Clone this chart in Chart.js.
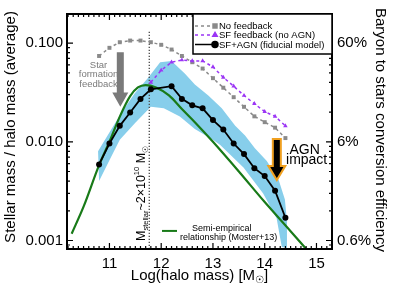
<!DOCTYPE html>
<html>
<head>
<meta charset="utf-8">
<script src="https://cdn.jsdelivr.net/npm/chart.js@4.4.0/dist/chart.umd.min.js"></script>
<style>
  html, body { margin: 0; padding: 0; background: #fff; }
  canvas { display: block; }
</style>
</head>
<body>
<canvas id="grafico" width="395" height="291"></canvas>
<script>
// valori (log massa alone, massa stellare / massa alone)
var noFeedbackX = [10.8, 11.0, 11.2, 11.4, 11.6, 11.8, 12.0, 12.2, 12.4, 12.6, 12.8, 13.0, 13.2, 13.4, 13.6, 13.8, 14.0, 14.2, 14.4];
var noFeedbackY = [0.074, 0.0895, 0.102, 0.106, 0.106, 0.102, 0.096, 0.086, 0.074, 0.064, 0.0552, 0.0441, 0.0353, 0.0283, 0.0226, 0.0181, 0.0158, 0.0139, 0.0109];

var sfFeedbackX = [11.8, 12.0, 12.2, 12.4, 12.6, 12.8, 13.0, 13.2, 13.4, 13.6, 13.8, 14.0, 14.2, 14.4];
var sfFeedbackY = [0.040, 0.053, 0.064, 0.0674, 0.066, 0.066, 0.0573, 0.0449, 0.0366, 0.0294, 0.0243, 0.0202, 0.0181, 0.0145];

var fiducialeX = [10.8, 11.0, 11.2, 11.4, 11.6, 11.8, 12.2, 12.4, 12.6, 12.8, 13.0, 13.2, 13.4, 13.6, 13.8, 14.0, 14.2, 14.4];
var fiducialeY = [0.0059, 0.0096, 0.0145, 0.0198, 0.0272, 0.034, 0.0366, 0.0272, 0.0234, 0.0218, 0.0166, 0.0133, 0.0096, 0.0075, 0.0054, 0.0045, 0.0032, 0.0017];

var mosterX = [10.27, 10.5, 10.8, 11.0, 11.2, 11.4, 11.55, 11.7, 11.9, 12.15, 12.4, 12.65, 13.0, 13.5, 14.0, 14.5, 14.82];
var mosterY = [0.00117, 0.0022, 0.0058, 0.0100, 0.018, 0.029, 0.0355, 0.0375, 0.0355, 0.0295, 0.0215, 0.0158, 0.0100, 0.0050, 0.00245, 0.00124, 0.00080];

var bandaSopraX = [10.78, 10.87, 11.24, 11.49, 11.74, 11.98, 12.2, 12.46, 12.65, 12.91, 13.17, 13.43, 13.62, 13.81, 14.04, 14.27, 14.39, 14.43, 14.43];
var bandaSopraY = [0.0080, 0.0096, 0.020, 0.031, 0.044, 0.064, 0.066, 0.049, 0.038, 0.0294, 0.0218, 0.0145, 0.0116, 0.0086, 0.0064, 0.0041, 0.0026, 0.00156, 0.00084];
var bandaSottoX = [10.8, 11.0, 11.2, 11.5, 11.8, 12.05, 12.36, 12.65, 13.0, 13.14, 13.59, 13.97, 14.23, 14.33];
var bandaSottoY = [0.0040, 0.0065, 0.0105, 0.0156, 0.0226, 0.0218, 0.018, 0.0135, 0.0105, 0.0093, 0.0055, 0.0030, 0.00168, 0.00086];

var mStellareX = 11.77;        // linea verticale M_stellar ~ 2x10^10
var mStellareCima = 0.13;

var xMin = 10.18, xMax = 15.3;
var yMin = 0.00082, yMax = 0.197;
var xTickValori = [11, 12, 13, 14, 15];
var yTickValori = [0.001, 0.01, 0.1];
var yTickEtichette = ['0.001', '0.010', '0.100'];
var destraTickEtichette = ['0.6%', '6%', '60%'];

var FONT = "'Liberation Sans', 'DejaVu Sans', sans-serif";

function punti(xs, ys) {
  var out = [];
  for (var i = 0; i < xs.length; i++) out.push({x: xs[i], y: ys[i]});
  return out;
}

// poligono della banda: bordo superiore poi inferiore al contrario
var bandaPunti = punti(bandaSopraX, bandaSopraY).concat(punti(bandaSottoX, bandaSottoY).reverse());

var GRIGIO = '#8a8a8a', VIOLA = '#9b35f5', VERDE = '#187a18', AZZURRO = '#87ceeb';

function testoRicco(ctx, pezzi, x, y, angolo, allinea, colore) {
  ctx.save();
  ctx.translate(x, y);
  ctx.rotate(angolo);
  ctx.fillStyle = colore || '#000';
  ctx.textBaseline = 'alphabetic';
  ctx.textAlign = 'left';
  var tot = 0;
  for (var i = 0; i < pezzi.length; i++) {
    ctx.font = pezzi[i].s + 'px ' + FONT;
    pezzi[i].w = ctx.measureText(pezzi[i].t).width;
    tot += pezzi[i].w;
  }
  var cx = allinea == 'center' ? -tot / 2 : 0;
  for (var j = 0; j < pezzi.length; j++) {
    ctx.font = pezzi[j].s + 'px ' + FONT;
    ctx.fillText(pezzi[j].t, cx, pezzi[j].dy || 0);
    cx += pezzi[j].w;
  }
  ctx.restore();
}

function freccia(ctx, cx, cima, collo, punta, mezzoFusto, mezzaTesta, riempi, bordo, spessore) {
  ctx.save();
  ctx.beginPath();
  ctx.moveTo(cx - mezzoFusto, cima);
  ctx.lineTo(cx + mezzoFusto, cima);
  ctx.lineTo(cx + mezzoFusto, collo);
  ctx.lineTo(cx + mezzaTesta, collo);
  ctx.lineTo(cx, punta);
  ctx.lineTo(cx - mezzaTesta, collo);
  ctx.lineTo(cx - mezzoFusto, collo);
  ctx.closePath();
  ctx.fillStyle = riempi;
  ctx.fill();
  if (bordo) {
    ctx.lineJoin = 'miter';
    ctx.strokeStyle = bordo;
    ctx.lineWidth = spessore;
    ctx.stroke();
  }
  ctx.restore();
}

var decorazioni = {
  id: 'decorazioni',
  beforeDraw: function(chart) {
    var ctx = chart.ctx;
    ctx.save();
    ctx.fillStyle = '#fff';
    ctx.fillRect(0, 0, chart.width, chart.height);
    ctx.restore();
  },
  afterDraw: function(chart) {
    var ctx = chart.ctx, a = chart.chartArea;
    var sx = chart.scales.x, sy = chart.scales.y;
    var X = function(v) { return sx.getPixelForValue(v); };
    var Y = function(v) { return sy.getPixelForValue(v); };

    // cornice con tacche verso l'interno
    ctx.save();
    ctx.strokeStyle = '#000';
    ctx.lineWidth = 1.2;
    ctx.beginPath();
    for (var i = Math.ceil(xMin * 10); i <= Math.floor(xMax * 10); i++) {
      var px = X(i / 10);
      var l = (i % 10 == 0) ? 6 : 3;
      ctx.moveTo(px, a.bottom); ctx.lineTo(px, a.bottom - l);
      ctx.moveTo(px, a.top); ctx.lineTo(px, a.top + l);
    }
    for (var e = -4; e <= -1; e++) {
      for (var k = 1; k <= 9; k++) {
        var v = k * Math.pow(10, e);
        if (v < yMin || v > yMax) continue;
        var py = Y(v);
        var lk = (k == 1) ? 6 : 3;
        ctx.moveTo(a.left, py); ctx.lineTo(a.left + lk, py);
        ctx.moveTo(a.right, py); ctx.lineTo(a.right - lk, py);
      }
    }
    ctx.stroke();
    ctx.lineWidth = 2;
    ctx.strokeRect(a.left, a.top, a.right - a.left, a.bottom - a.top);
    ctx.restore();

    // legenda in alto a destra
    var lx = a.right - 139, ly = a.top, lw = 139, lh = 40;
    ctx.save();
    ctx.fillStyle = '#fff';
    ctx.fillRect(lx, ly, lw, lh);
    ctx.strokeStyle = '#000';
    ctx.lineWidth = 1.5;
    ctx.strokeRect(lx, ly, lw, lh);
    var righe = [
      {testo: 'No feedback', colore: GRIGIO, dash: [3, 3], stile: 'rect', r: 2.8, y: ly + 12},
      {testo: 'SF feedback (no AGN)', colore: VIOLA, dash: [3, 3], stile: 'triangle', r: 2.6, y: ly + 21},
      {testo: 'SF+AGN (fiducial model)', colore: '#000', dash: [], stile: 'circle', r: 3, y: ly + 30.5}
    ];
    ctx.font = '9.5px ' + FONT;
    ctx.textBaseline = 'middle';
    for (var r = 0; r < righe.length; r++) {
      var rg = righe[r];
      ctx.strokeStyle = rg.colore;
      ctx.fillStyle = rg.colore;
      ctx.lineWidth = 1.5;
      ctx.setLineDash(rg.dash);
      ctx.beginPath();
      ctx.moveTo(lx + 2, rg.y); ctx.lineTo(lx + 22, rg.y);
      ctx.stroke();
      ctx.setLineDash([]);
      Chart.helpers.drawPoint(ctx, {pointStyle: rg.stile, radius: rg.r, rotation: 0, borderWidth: 1}, lx + 22, rg.y);
      ctx.fillStyle = '#000';
      ctx.fillText(rg.testo, lx + 26, rg.y + 0.5);
    }
    ctx.restore();

    // legenda relazione semi-empirica
    ctx.save();
    ctx.strokeStyle = VERDE;
    ctx.lineWidth = 2;
    ctx.beginPath();
    ctx.moveTo(162, Y(0.00125)); ctx.lineTo(177, Y(0.00125));
    ctx.stroke();
    ctx.fillStyle = '#000';
    ctx.font = '9px ' + FONT;
    ctx.textBaseline = 'middle';
    ctx.fillText('Semi-empirical', 192, 228.5);
    ctx.fillText('relationship (Moster+13)', 180, 237.5);
    ctx.restore();

    // freccia feedback da formazione stellare
    freccia(ctx, X(11.21), Y(0.0805), Y(0.0316), Y(0.0226), 3.5, 8, '#7a7a7a');
    ctx.save();
    ctx.fillStyle = '#7a7a7a';
    ctx.font = '9.5px ' + FONT;
    ctx.textAlign = 'center';
    ctx.textBaseline = 'middle';
    ctx.fillText('Star', X(10.79), Y(0.059));
    ctx.fillText('formation', X(10.79), Y(0.0478));
    ctx.fillText('feedback', X(10.79), Y(0.0386));
    ctx.restore();

    // freccia impatto AGN
    freccia(ctx, X(14.234), Y(0.0107), Y(0.0057), Y(0.0041), 4, 8.5, '#000', '#f0a020', 2);
    ctx.save();
    ctx.fillStyle = '#000';
    ctx.font = '14px ' + FONT;
    ctx.textAlign = 'center';
    ctx.textBaseline = 'alphabetic';
    ctx.fillText('AGN', X(14.77), Y(0.0076));
    ctx.fillText('impact', X(14.81), Y(0.0059));
    ctx.restore();

    // etichetta verticale della linea tratteggiata
    testoRicco(ctx, [
      {t: 'M', s: 12.5},
      {t: 'stellar', s: 7.5, dy: 3},
      {t: '~2\u00d710', s: 12.5},
      {t: '10', s: 7.5, dy: -6},
      {t: ' M', s: 12.5},
      {t: '\u2609', s: 8, dy: 3}
    ], X(mStellareX) - 4.5, 241, -Math.PI / 2, 'left');

    // titoli degli assi
    testoRicco(ctx, [
      {t: 'Log(halo mass) [M', s: 15},
      {t: '\u2609', s: 10, dy: 3},
      {t: ']', s: 15}
    ], (a.left + a.right) / 2, 280, 0, 'center');
    testoRicco(ctx, [{t: 'Stellar mass / halo mass (average)', s: 15}], 14.5, 127, -Math.PI / 2, 'center');
    testoRicco(ctx, [{t: 'Baryon to stars conversion efficiency', s: 15}], 376, 130, Math.PI / 2, 'center');
  }
};

var tickFont = {family: FONT, size: 15};

var grafico = new Chart(document.getElementById('grafico'), {
  type: 'line',
  data: {
    datasets: [
      {
        label: 'banda',
        data: bandaPunti,
        fill: 'shape',
        backgroundColor: AZZURRO,
        borderWidth: 0,
        pointRadius: 0,
        tension: 0,
        order: 10
      },
      {
        label: 'M stellar',
        data: [{x: mStellareX, y: yMin}, {x: mStellareX, y: mStellareCima}],
        borderColor: '#555',
        borderWidth: 1.4,
        borderDash: [1.2, 1.8],
        pointRadius: 0,
        fill: false,
        order: 5
      },
      {
        label: 'Semi-empirical relationship (Moster+13)',
        data: punti(mosterX, mosterY),
        borderColor: VERDE,
        borderWidth: 2.2,
        pointRadius: 0,
        cubicInterpolationMode: 'monotone',
        fill: false,
        order: 3
      },
      {
        label: 'No feedback',
        data: punti(noFeedbackX, noFeedbackY),
        borderColor: GRIGIO,
        backgroundColor: GRIGIO,
        borderWidth: 1.5,
        borderDash: [3, 3],
        pointStyle: 'rect',
        pointRadius: 2.8,
        pointBorderWidth: 0,
        fill: false,
        order: 2
      },
      {
        label: 'SF feedback (no AGN)',
        data: punti(sfFeedbackX, sfFeedbackY),
        borderColor: VIOLA,
        backgroundColor: VIOLA,
        borderWidth: 1.5,
        borderDash: [3, 3],
        pointStyle: 'triangle',
        pointRadius: 2.6,
        pointBorderWidth: 0,
        fill: false,
        order: 1
      },
      {
        label: 'SF+AGN (fiducial model)',
        data: punti(fiducialeX, fiducialeY),
        borderColor: '#000',
        backgroundColor: '#000',
        borderWidth: 1.8,
        pointStyle: 'circle',
        pointRadius: 3,
        pointBorderWidth: 0,
        fill: false,
        order: 0
      }
    ]
  },
  options: {
    responsive: false,
    animation: false,
    layout: {padding: {top: 3, left: 0, right: 0, bottom: 0}},
    plugins: {legend: {display: false}, tooltip: {enabled: false}},
    scales: {
      x: {
        type: 'linear',
        min: xMin,
        max: xMax,
        afterFit: function(s) { s.height = 42; },
        afterBuildTicks: function(s) { s.ticks = xTickValori.map(function(v) { return {value: v}; }); },
        ticks: {font: tickFont, color: '#000', padding: 6, maxRotation: 0, autoSkip: false,
                callback: function(v) { return String(v); }},
        grid: {display: false, drawTicks: false},
        border: {display: false}
      },
      y: {
        type: 'logarithmic',
        position: 'left',
        min: yMin,
        max: yMax,
        afterFit: function(s) { s.width = 67; },
        afterBuildTicks: function(s) { s.ticks = yTickValori.map(function(v) { return {value: v}; }); },
        ticks: {font: tickFont, color: '#000', padding: 4, autoSkip: false,
                callback: function(v) { var i = yTickValori.indexOf(v); return i >= 0 ? yTickEtichette[i] : ''; }},
        grid: {display: false, drawTicks: false},
        border: {display: false}
      },
      y2: {
        type: 'logarithmic',
        position: 'right',
        min: yMin,
        max: yMax,
        afterFit: function(s) { s.width = 63; },
        afterBuildTicks: function(s) { s.ticks = yTickValori.map(function(v) { return {value: v}; }); },
        ticks: {font: tickFont, color: '#000', padding: 5, autoSkip: false,
                callback: function(v) { var i = yTickValori.indexOf(v); return i >= 0 ? destraTickEtichette[i] : ''; }},
        grid: {display: false, drawTicks: false},
        border: {display: false}
      }
    }
  },
  plugins: [decorazioni]
});
</script>
</body>
</html>
